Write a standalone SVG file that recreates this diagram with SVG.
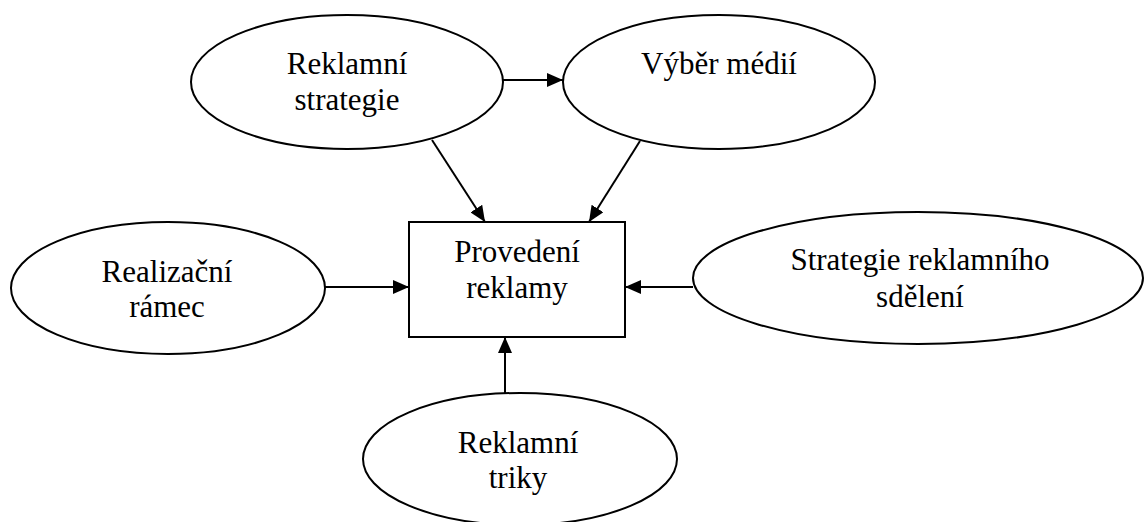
<svg xmlns="http://www.w3.org/2000/svg" width="1144" height="522" viewBox="0 0 1144 522">
<style>
.n{fill:#fff;stroke:#000;stroke-width:2}
.t{font-family:"Liberation Serif","Times New Roman",serif;font-size:31px;fill:#000;text-anchor:middle}
.c{stroke:#000;stroke-width:2;fill:none;marker-end:url(#ah)}
</style>
<defs>
<marker id="ah" markerUnits="userSpaceOnUse" markerWidth="18" markerHeight="14" refX="16" refY="7" orient="auto">
<path d="M0,0 L16,7 L0,14 Z" fill="#000"/>
</marker>
</defs>
<rect width="1144" height="522" fill="#fff"/>
<g id="connectors">
<line class="c" x1="503" y1="80" x2="563" y2="80"/>
<line class="c" x1="432" y1="140" x2="485" y2="222"/>
<line class="c" x1="640" y1="141" x2="589" y2="222"/>
<line class="c" x1="325" y1="287" x2="409" y2="287"/>
<line class="c" x1="693" y1="287" x2="625" y2="287"/>
<line class="c" x1="505" y1="393" x2="505" y2="337"/>
</g>
<g id="reklamni-strategie">
<ellipse class="n" cx="347" cy="82" rx="156" ry="67"/>
<text class="t" x="347" y="74">Reklamní</text>
<text class="t" x="347" y="110">strategie</text>
</g>
<g id="vyber-medii">
<ellipse class="n" cx="719" cy="82" rx="156" ry="67"/>
<text class="t" x="719" y="74">Výběr médií</text>
</g>
<g id="provedeni-reklamy">
<rect class="n" x="409" y="222" width="216" height="115"/>
<text class="t" x="517" y="262">Provedení</text>
<text class="t" x="517" y="298">reklamy</text>
</g>
<g id="realizacni-ramec">
<ellipse class="n" cx="168" cy="288" rx="157" ry="66"/>
<text class="t" x="167" y="282">Realizační</text>
<text class="t" x="167" y="317">rámec</text>
</g>
<g id="strategie-sdeleni">
<ellipse class="n" cx="918" cy="278" rx="225" ry="66"/>
<text class="t" x="920" y="270">Strategie reklamního</text>
<text class="t" x="920" y="307">sdělení</text>
</g>
<g id="reklamni-triky">
<ellipse class="n" cx="520" cy="459" rx="157" ry="66"/>
<text class="t" x="518" y="453">Reklamní</text>
<text class="t" x="518" y="488">triky</text>
</g>
</svg>
